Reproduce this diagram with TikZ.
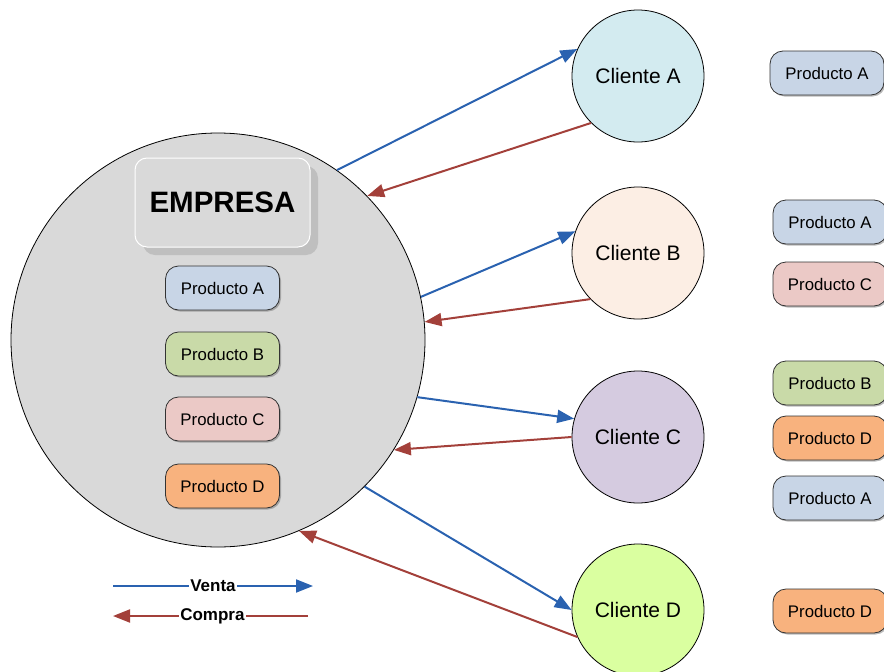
\documentclass[tikz,border=0pt]{standalone}
\usepackage{fontspec}
\setmainfont{Liberation Sans}
\usetikzlibrary{arrows.meta,shadows}
\definecolor{venta}{HTML}{2A62B0}
\definecolor{compra}{HTML}{A3403A}
\definecolor{empgray}{HTML}{D9D9D9}
\definecolor{cA}{HTML}{D3EBF0}
\definecolor{cB}{HTML}{FCEEE4}
\definecolor{cC}{HTML}{D5CBE0}
\definecolor{cD}{HTML}{DAFFA0}
\definecolor{pA}{HTML}{C8D5E6}
\definecolor{pB}{HTML}{C9DAA8}
\definecolor{pC}{HTML}{EBC9C6}
\definecolor{pD}{HTML}{F8B27E}
\tikzset{
  cliente/.style={circle,draw=black,line width=0.8pt,minimum size=132pt,inner sep=0pt,font=\fontsize{21}{25}\selectfont},
  prod/.style={rectangle,rounded corners=13pt,draw=black!80,line width=0.8pt,minimum width=114pt,minimum height=44pt,inner sep=0pt,font=\fontsize{16.8}{20}\selectfont,drop shadow={shadow xshift=1.5pt,shadow yshift=-1.5pt,opacity=0.45,fill=black!60}},
  vline/.style={draw=venta,line width=2pt,-{Triangle[length=17pt,width=13pt]}},
  cline/.style={draw=compra,line width=2pt,-{Triangle[length=17pt,width=13pt]}},
  leglabel/.style={fill=white,inner sep=1pt,font=\bfseries\fontsize{17}{20}\selectfont}
}
\begin{document}
\begin{tikzpicture}[x=1pt,y=-1pt]
\useasboundingbox (0,0) rectangle (884,672);
% empresa circle
\node[circle,draw=black,line width=0.8pt,fill=empgray,minimum size=414pt,inner sep=0pt] (emp) at (218,340) {};
% empresa title box
\fill[black!25,rounded corners=12pt] (143,166) rectangle (318,255);
\node[rectangle,rounded corners=12pt,draw=white,line width=1pt,fill=empgray,minimum width=175pt,minimum height=89pt,inner sep=0pt,font=\bfseries\fontsize{29.5}{34}\selectfont] (title) at (222.5,202.5) {EMPRESA};
% products inside
\node[prod,fill=pA] (ipA) at (222.5,288) {Producto A};
\node[prod,fill=pB] (ipB) at (222.5,354) {Producto B};
\node[prod,fill=pC] (ipC) at (222.5,419) {Producto C};
\node[prod,fill=pD] (ipD) at (222.5,486) {Producto D};
% clients
\node[cliente,fill=cA] (ca) at (638,76) {Cliente A};
\node[cliente,fill=cB] (cb) at (638,253) {Cliente B};
\node[cliente,fill=cC] (cc) at (638,437) {Cliente C};
\node[cliente,fill=cD] (cd) at (638,610) {Cliente D};
% right products
\node[prod,fill=pA] (aA) at (827,73) {Producto A};
\node[prod,fill=pA] (bA) at (830,222) {Producto A};
\node[prod,fill=pC] (bC) at (830,284) {Producto C};
\node[prod,fill=pB] (cB1) at (830,383) {Producto B};
\node[prod,fill=pD] (cD1) at (830,438) {Producto D};
\node[prod,fill=pA] (cA1) at (830,498) {Producto A};
\node[prod,fill=pD] (dD) at (830,611) {Producto D};
% connectors
\draw[vline] (emp.55.5) -- (ca.156);
\draw[cline] (ca.225.6) -- (emp.44);
\draw[vline] (emp.12) -- (cb.161.6);
\draw[cline] (cb.224.4) -- (emp.5);
\draw[vline] (emp.-16.1) -- (cc.164);
\draw[cline] (cc.180) -- (emp.-32);
\draw[vline] (emp.-45.2) -- (cd.180);
\draw[cline] (cd.204.7) -- (emp.-67.3);
% legend
\coordinate (v1) at (113,586);
\coordinate (v2) at (313,586);
\coordinate (c1) at (308,616);
\coordinate (c2) at (113,616);
\draw[vline] (v1) -- (v2) node[leglabel,pos=0.5,text=black] (lv) {Venta};
\draw[cline] (c1) -- (c2) node[leglabel,pos=0.49,text=black] (lc) {Compra};
\end{tikzpicture}
\end{document}
